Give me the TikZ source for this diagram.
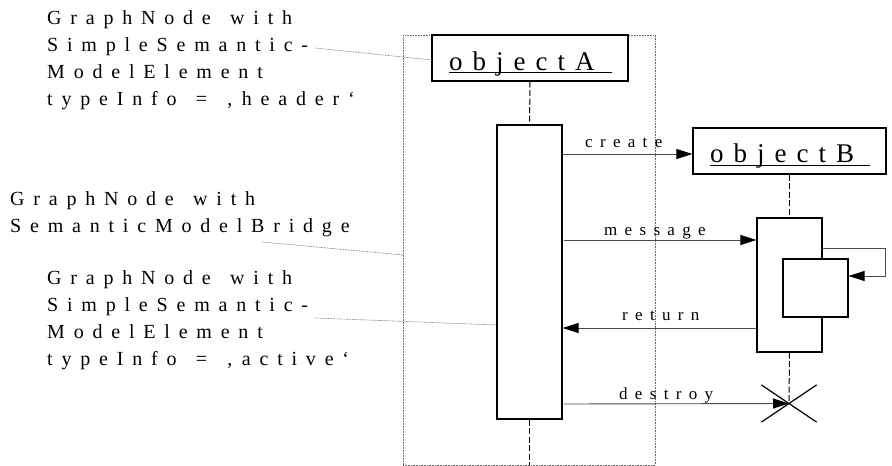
\documentclass[tikz,border=0pt]{standalone}
\usepackage{fontspec}
\setmainfont{Liberation Serif}
\newfontfamily\lblfont[LetterSpace=44,WordSpace=1.4]{Liberation Serif}
\newfontfamily\msgfont[LetterSpace=43]{Liberation Serif}
\newfontfamily\objfont[LetterSpace=37]{Liberation Serif}
\usetikzlibrary{arrows.meta,shapes.misc}
\begin{document}
\begin{tikzpicture}[x=1pt,y=-1pt,
  box/.style={draw=black,line width=1.2pt,fill=white,rectangle,inner sep=0pt},
  objtext/.style={inner sep=0pt,font={\objfont\fontsize{27}{30}\selectfont}},
  lbl/.style={inner sep=0pt,align=left,font={\lblfont\fontsize{20}{26.7}\selectfont}},
  msglbl/.style={inner sep=0pt,font={\msgfont\fontsize{17}{20}\selectfont}},
  msg/.style={draw=black!70,line width=0.9pt,-{Triangle[length=16pt,width=10pt,fill=black,color=black]}},
  life/.style={draw=black,line width=1pt,dash pattern=on 6pt off 2.5pt},
  leader/.style={draw=black!60,line width=0.6pt,dash pattern=on 0.8pt off 0.8pt},
  bridgebox/.style={draw=black!60,line width=0.6pt,dash pattern=on 0.8pt off 0.8pt,rectangle,inner sep=0pt},
  ul/.style={draw=black,line width=1.4pt}]
\useasboundingbox (0,0) rectangle (892,466);
% bridge frame
\node[bridgebox,minimum width=252pt,minimum height=430pt] (bridge) at (529,250) {};
% object A
\node[box,minimum width=196pt,minimum height=46pt] (objA) at (530,58) {};
\node[objtext,anchor=base west] (tA) at (449,70) {objectA};
\draw[ul] (449,72.5) -- (612,72.5);
% object B
\node[box,minimum width=193pt,minimum height=46pt] (objB) at (789.5,151) {};
\node[objtext,anchor=base west] (tB) at (710,162.5) {objectB};
\draw[ul] (710,165.5) -- (870,165.5);
% activations
\node[box,minimum width=65pt,minimum height=294pt] (actA) at (529.5,272) {};
\node[box,minimum width=65pt,minimum height=134pt] (actB) at (789.5,285) {};
\node[box,minimum width=65pt,minimum height=58pt] (nest) at (815.5,288) {};
% destruction
\node[cross out,draw=black,line width=1.2pt,minimum width=54pt,minimum height=36pt,inner sep=0pt] (xB) at (789,403.5) {};
\coordinate (endA) at (529.5,465);
% lifelines
\draw[life] (objA.south) -- (actA.north);
\draw[life] (actA.south) -- (endA);
\draw[life] (objB.south) -- (actB.north);
\draw[life] (actB.south) -- (xB.center);
% messages
\draw[msg] (actA.east |- 0,154) -- (objB.west |- 0,154);
\draw[msg] (564,240) -- (actB.west |- 0,240);
\draw[msg] (actB.west |- 0,328) -- (actA.east |- 0,328);
\draw[msg] (564,404) -- (xB.center);
\draw[msg] (actB.east |- 0,248) -- (885,248) -- (885,276) -- (nest.east |- 0,276);
% message labels
\node[msglbl,anchor=base west] (lc) at (585,147) {create};
\node[msglbl,anchor=base west] (lm) at (604,235) {message};
\node[msglbl,anchor=base west] (lr) at (622,320.5) {return};
\node[msglbl,anchor=base west] (ld) at (619,399) {destroy};
% left labels (base = last line)
\node[lbl,anchor=base west] (lab1) at (47,105) {GraphNode with\\SimpleSemantic-\\ModelElement\\typeInfo = ‚header‘};
\node[lbl,anchor=base west] (lab2) at (10,232) {GraphNode with\\SemanticModelBridge};
\node[lbl,anchor=base west] (lab3) at (47,365) {GraphNode with\\SimpleSemantic-\\ModelElement\\typeInfo = ‚active‘};
% leaders
\coordinate (p1) at (315,48);
\coordinate (q1) at (432,60);
\coordinate (p2) at (262,242);
\coordinate (q2) at (403,255);
\coordinate (p3) at (315,318);
\coordinate (q3) at (497,325);
\draw[leader] (p1) -- (q1);
\draw[leader] (p2) -- (q2);
\draw[leader] (p3) -- (q3);
\end{tikzpicture}
\end{document}
